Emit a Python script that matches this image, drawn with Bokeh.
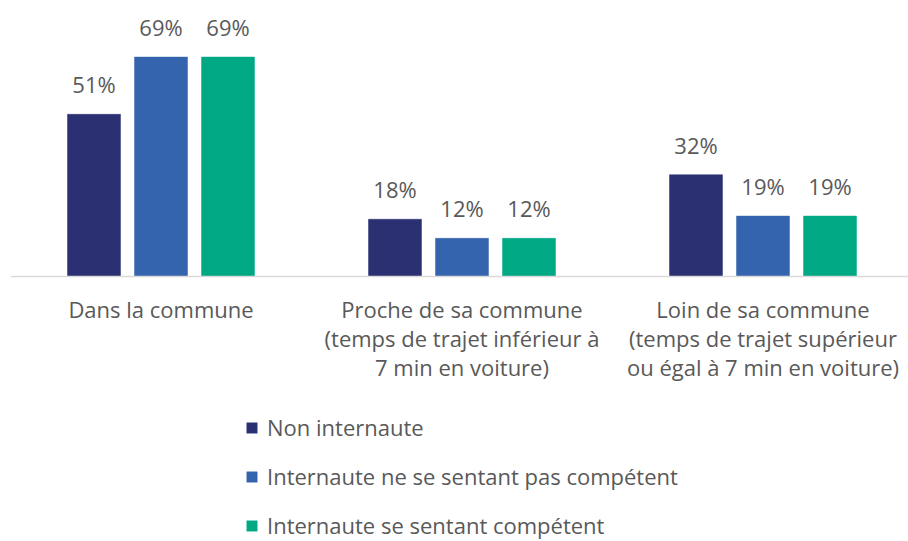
from bokeh.plotting import figure
from bokeh.models import ColumnDataSource, Range1d, Legend, LegendItem, Span
from bokeh.core.properties import value
from bokeh.embed import file_html
from bokeh.resources import INLINE

categories = [
    "Dans la commune",
    "Proche de sa commune\n(temps de trajet inférieur à\n7 min en voiture)",
    "Loin de sa commune\n(temps de trajet supérieur\nou égal à 7 min en voiture)",
]
series_names = [
    "Non internaute",
    "Internaute ne se sentant pas compétent",
    "Internaute se sentant compétent",
]
non_internaute = [51, 18, 32]
internaute_non_competent = [69, 12, 19]
internaute_competent = [69, 12, 19]
colors = ["#2B3072", "#3464AE", "#00A884"]

series = [non_internaute, internaute_non_competent, internaute_competent]
offsets = [-0.2226, 0.0, 0.2226]
bar_width = 0.176

FONT = "Open Sans"
GRAY = "#595959"

p = figure(width=908, height=541, output_backend="svg", toolbar_location=None,
           x_range=Range1d(-0.5, 2.4834), y_range=Range1d(-83.33, 86.79),
           min_border_left=10, min_border_right=0, min_border_top=0,
           min_border_bottom=0)
p.outline_line_color = None
p.grid.visible = False
p.axis.visible = False
p.background_fill_color = "white"
p.border_fill_color = "white"

# baseline (category axis line)
p.add_layout(Span(location=0, dimension="width", line_color="#D9D9D9", line_width=1.5))

items = []
for name, vals, off, col in zip(series_names, series, offsets, colors):
    src = ColumnDataSource(dict(
        x=[i + off for i in range(len(categories))],
        top=vals,
        label=[f"{v:.0f}%" for v in vals],
    ))
    r = p.vbar(x="x", top="top", width=bar_width, source=src,
               fill_color=col, line_color=col, line_width=0.5)
    p.text(x="x", y="top", text="label", source=src, y_offset=-30,
           text_align="center", text_baseline="alphabetic",
           text_font=value(FONT), text_font_size="22px", text_color=GRAY)
    items.append(LegendItem(label=name, renderers=[r]))

# category labels under the baseline
cat_src = ColumnDataSource(dict(x=list(range(len(categories))), y=[0] * len(categories), text=categories))
p.text(x="x", y="y", text="text", source=cat_src, y_offset=17,
       text_align="center", text_baseline="top", text_line_height=0.98,
       text_font=value(FONT), text_font_size="22px", text_color=GRAY)

legend = Legend(items=items, location=(235, 1), orientation="vertical",
                glyph_width=13, glyph_height=13, label_height=22,
                spacing=19, label_standoff=9, padding=0, margin=0,
                border_line_color=None, background_fill_alpha=0,
                label_text_font=FONT, label_text_font_size="22px",
                label_text_color=GRAY)
p.add_layout(legend, "center")

open("out.html", "w").write(file_html(p, INLINE))
